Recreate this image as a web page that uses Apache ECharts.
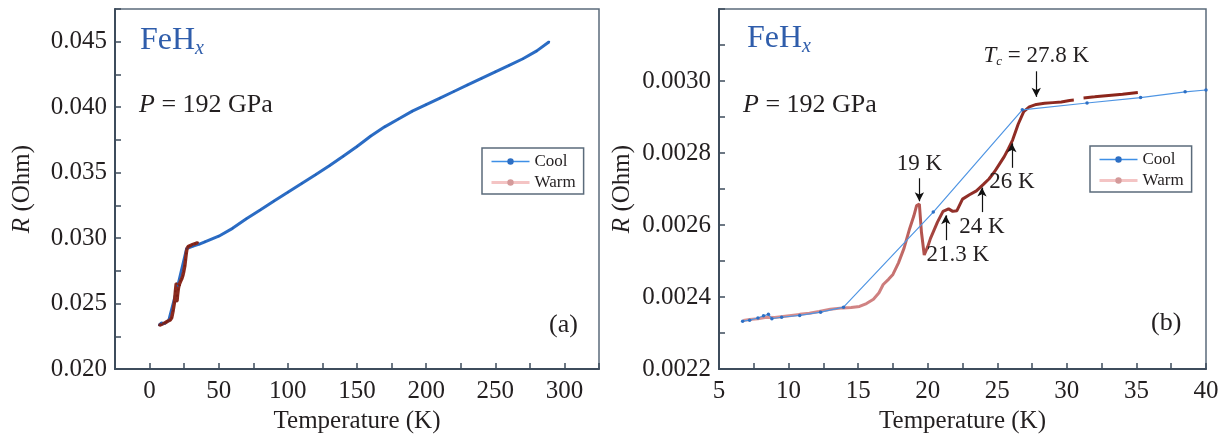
<!DOCTYPE html>
<html>
<head>
<meta charset="utf-8">
<script src="https://cdn.jsdelivr.net/npm/echarts@6/dist/echarts.min.js"></script>
<style>
html, body { margin: 0; padding: 0; background: #fff; }
#curve { width: 1226px; height: 439px; }
</style>
</head>
<body>
<div id="curve"></div>
<script>
// (a) whole run, 0-300 K
var fullCoolT = [6.8, 8.5, 9.5, 10.8, 13.9, 20.4, 26.8, 31.5, 36, 40, 50, 60, 70, 80, 90, 100, 110, 120, 130, 140, 150, 160, 170, 180, 190, 200, 210, 220, 230, 240, 250, 260, 270, 280, 289];
var fullCoolR = [0.02335, 0.02352, 0.02344, 0.02349, 0.02372, 0.02636, 0.0292, 0.02939, 0.02954, 0.02972, 0.03015, 0.03075, 0.03148, 0.03215, 0.03283, 0.0335, 0.03418, 0.03485, 0.03553, 0.03625, 0.037, 0.0378, 0.0385, 0.0391, 0.0397, 0.0402, 0.0407, 0.0412, 0.0417, 0.0422, 0.0427, 0.0432, 0.0437, 0.0443, 0.045];
var fullWarmT = [6.9, 8, 9, 10, 11, 12, 13, 14, 15, 16, 17, 18, 18.7, 19.3, 19.6, 19.8, 20.2, 20.7, 21.3, 22, 22.5, 23.3, 24, 24.7, 25.5, 26, 26.5, 27, 27.8, 29, 31, 33, 35];
var fullWarmR = [0.02334, 0.0234, 0.02343, 0.02348, 0.02352, 0.02358, 0.02365, 0.02372, 0.02376, 0.02392, 0.02445, 0.0251, 0.02595, 0.02655, 0.0256, 0.02517, 0.02563, 0.02608, 0.02642, 0.0264, 0.02672, 0.0269, 0.02713, 0.02745, 0.0279, 0.02836, 0.02882, 0.02918, 0.02935, 0.02941, 0.0295, 0.02958, 0.02966];
var fullXTicks = [0, 50, 100, 150, 200, 250, 300];
var fullYTicks = [0.020, 0.025, 0.030, 0.035, 0.040, 0.045];

// (b) zoom on the transition, 5-40 K
var zoomCoolT = [6.7, 7.2, 7.8, 8.2, 8.55, 8.8, 9.5, 10.8, 12.3, 13.95, 20.4, 26.8, 31.45, 35.3, 38.5, 40];
var zoomCoolR = [0.002333, 0.002336, 0.002342, 0.002348, 0.002352, 0.00234, 0.002344, 0.002349, 0.002358, 0.002372, 0.002636, 0.00292, 0.002939, 0.002954, 0.00297, 0.002975];
var zoomWarmT = [6.75, 7.2, 7.8, 8.4, 9, 9.6, 10.2, 10.8, 11.5, 12.2, 13, 13.9, 14.5, 15.1, 15.6, 16.1, 16.5, 16.8, 17.2, 17.5, 17.9, 18.3, 18.7, 19, 19.2, 19.4, 19.55, 19.75, 20, 20.2, 20.7, 21.1, 21.5, 21.8, 22.1, 22.5, 23, 23.5, 24, 24.4, 24.8, 25.2, 25.5, 25.8, 26.1, 26.5, 26.9, 27.3, 27.8, 28.4, 29, 29.6, 30.2, 30.5, 30.8, 31.2, 32, 33, 34, 35.1];
var zoomWarmR = [0.002335, 0.002338, 0.00234, 0.002344, 0.002343, 0.002346, 0.002349, 0.002352, 0.002355, 0.00236, 0.002366, 0.00237, 0.002371, 0.002374, 0.002382, 0.002394, 0.002412, 0.002435, 0.00245, 0.002463, 0.002495, 0.002536, 0.00259, 0.002625, 0.002654, 0.002658, 0.00258, 0.002517, 0.00254, 0.002563, 0.002608, 0.002638, 0.002645, 0.002638, 0.00264, 0.002672, 0.002684, 0.002695, 0.002713, 0.002728, 0.002748, 0.002772, 0.00279, 0.002812, 0.002836, 0.00288, 0.002915, 0.002928, 0.002935, 0.002938, 0.00294, 0.002942, 0.002946, 0.002947, null, 0.002953, 0.002956, 0.00296, 0.002963, 0.002968];
var zoomXTicks = [5, 10, 15, 20, 25, 30, 35, 40];
var zoomYTicks = [0.0022, 0.0024, 0.0026, 0.0028, 0.0030];

// arrows marking the steps on the warming curve
var arrowT = [27.8, 19.4, 21.3, 23.9, 26.05];
var arrowFrom = [0.003027, 0.00273, 0.002558, 0.002636, 0.002759];
var arrowTo = [0.002956, 0.002666, 0.002627, 0.002704, 0.002827];
var arrowText = ["{i|T}{s|c} = 27.8 K", "19 K", "21.3 K", "24 K", "26 K"];

var FONT = "'Liberation Serif', 'Times New Roman', serif";
var INK = "#231f20";
var FRAME = "#3e4c5c";
var BLUE = "#2f5dab";

function pairs(xs, ys) {
  return xs.map(function (x, i) { return [x, ys[i]]; });
}
function tickLabel(list, digits) {
  return function (v) {
    for (var i = 0; i < list.length; i++) {
      if (Math.abs(list[i] - v) < 1e-9) return list[i].toFixed(digits);
    }
    return "";
  };
}
function xAxisOf(idx, min, max, step, ticks) {
  return {
    gridIndex: idx, type: "value", min: min, max: max, interval: step,
    name: "Temperature (K)", nameLocation: "middle", nameGap: 37,
    nameTextStyle: { fontFamily: FONT, fontSize: 25, color: INK },
    axisLine: { show: true, onZero: false, lineStyle: { color: FRAME, width: 2 } },
    axisTick: { inside: true, length: 6, lineStyle: { color: FRAME, width: 1.5 } },
    axisLabel: { formatter: tickLabel(ticks, 0), fontFamily: FONT, fontSize: 25, color: INK, margin: 10 },
    splitLine: { show: false },
  };
}
function yAxisOf(idx, min, max, step, ticks, digits, gap) {
  return {
    gridIndex: idx, type: "value", min: min, max: max, interval: step,
    name: "{i|R} (Ohm)", nameLocation: "middle", nameGap: gap,
    nameTextStyle: { fontFamily: FONT, fontSize: 25, color: INK,
      rich: { i: { fontFamily: FONT, fontSize: 25, color: INK, fontStyle: "italic" } } },
    axisLine: { show: true, onZero: false, lineStyle: { color: FRAME, width: 2 } },
    axisTick: { inside: true, length: 6, lineStyle: { color: FRAME, width: 1.5 } },
    axisLabel: { formatter: tickLabel(ticks, digits), fontFamily: FONT, fontSize: 25, color: INK, margin: 8 },
    splitLine: { show: false },
  };
}
function legendOf(left, top) {
  return {
    left: left, top: top, orient: "vertical",
    padding: [5, 8, 3, 8], itemGap: 4, itemWidth: 38, itemHeight: 8,
    borderColor: "#5b6b7b", borderWidth: 1.5,
    textStyle: { fontFamily: FONT, fontSize: 17, color: INK },
    data: [
      { name: "Cool", itemStyle: { color: "#2d6fc4" }, lineStyle: { color: "#3e8fe6", width: 1.5 } },
      { name: "Warm", itemStyle: { color: "#d49a9a" }, lineStyle: { color: "#f4c4c4", width: 3 } },
    ],
  };
}
function label(text, left, top, size, color) {
  return {
    text: text, left: left, top: top,
    textStyle: {
      fontFamily: FONT, fontSize: size, fontWeight: "normal", color: color,
      rich: {
        a: { fontFamily: FONT, fontSize: size, color: color },
        b: { fontFamily: FONT, fontSize: 20, color: color, fontStyle: "italic", padding: [16, 0, 0, 0] },
        i: { fontFamily: FONT, fontSize: size, color: color, fontStyle: "italic" },
      },
    },
  };
}

var myChart = echarts.init(document.getElementById("curve"));
var option = {
  animation: false,
  backgroundColor: "#fff",
  title: [
    label("{a|FeH}{b|x}", 135, 18, 32, BLUE),
    label("{i|P} = 192 GPa", 134, 87, 26, INK),
    label("(a)", 544, 307, 26, INK),
    label("{a|FeH}{b|x}", 742, 16, 32, BLUE),
    label("{i|P} = 192 GPa", 738, 87, 26, INK),
    label("(b)", 1146, 305, 26, INK),
  ],
  legend: [legendOf(482, 148), legendOf(1090, 146)],
  grid: [
    { left: 115, top: 9, width: 484, height: 362, show: true, borderColor: "#5b6b7b", borderWidth: 1.5 },
    { left: 719, top: 9, width: 487, height: 362, show: true, borderColor: "#5b6b7b", borderWidth: 1.5 },
  ],
  xAxis: [
    xAxisOf(0, -25, 325, 25, fullXTicks),
    xAxisOf(1, 5, 40, 2.5, zoomXTicks),
  ],
  yAxis: [
    yAxisOf(0, 0.02, 0.0475, 0.0025, fullYTicks, 3, 80),
    yAxisOf(1, 0.0022, 0.0032, 0.0001, zoomYTicks, 4, 84),
  ],
  series: [
    {
      name: "Cool", type: "line", xAxisIndex: 0, yAxisIndex: 0,
      data: pairs(fullCoolT, fullCoolR),
      symbol: "circle", symbolSize: 2,
      lineStyle: { color: "#2b6cc4", width: 3 },
      itemStyle: { color: "#1f5fb8" },
    },
    {
      name: "Warm", type: "line", xAxisIndex: 0, yAxisIndex: 0,
      data: pairs(fullWarmT, fullWarmR),
      symbol: "circle", symbolSize: 2,
      lineStyle: { color: "#8b2a1e", width: 3.5 },
      itemStyle: { color: "#7a1f15" },
    },
    {
      name: "Warm", type: "line", xAxisIndex: 1, yAxisIndex: 1,
      data: pairs(zoomWarmT, zoomWarmR),
      symbol: "none",
      lineStyle: {
        width: 3,
        color: new echarts.graphic.LinearGradient(0, 0, 1, 0, [
          { offset: 0, color: "#d99494" },
          { offset: 0.35, color: "#cf8080" },
          { offset: 0.45, color: "#b45550" },
          { offset: 0.52, color: "#92302a" },
          { offset: 1, color: "#8b2418" },
        ]),
      },
      markLine: {
        silent: true,
        symbol: ["none", "arrow"],
        symbolSize: [7, 9],
        lineStyle: { color: "#111", width: 1.2, type: "solid" },
        label: {
          show: true, position: "start", distance: 3,
          fontFamily: FONT, fontSize: 23, color: INK,
          rich: {
            i: { fontFamily: FONT, fontSize: 23, color: INK, fontStyle: "italic" },
            s: { fontFamily: FONT, fontSize: 13, color: INK, fontStyle: "italic", padding: [12, 0, 0, 0] },
          },
        },
        data: arrowT.map(function (t, i) {
          return [
            { coord: [t, arrowFrom[i]], label: { formatter: arrowText[i], padding: i === 2 ? [0, 0, 0, 24] : 0 } },
            { coord: [t, arrowTo[i]] },
          ];
        }),
      },
    },
    {
      name: "Cool", type: "line", xAxisIndex: 1, yAxisIndex: 1,
      data: pairs(zoomCoolT, zoomCoolR),
      symbol: "circle", symbolSize: 3.5,
      lineStyle: { color: "#4f95e3", width: 1.2 },
      itemStyle: { color: "#2d6fc4" },
    },
  ],
};
option && myChart.setOption(option);
window.addEventListener("resize", function () { myChart.resize(); });
</script>
</body>
</html>
